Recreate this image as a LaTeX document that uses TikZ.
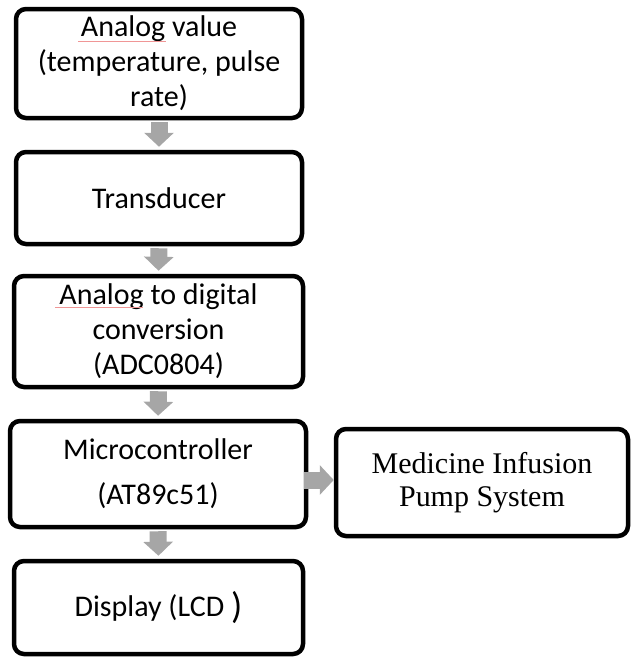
\documentclass[tikz,border=0pt]{standalone}
\usepackage{fontspec}
\setmainfont{Carlito}
\newfontfamily\serifface{Liberation Serif}
\usetikzlibrary{arrows.meta}
\definecolor{flowgray}{RGB}{166,166,166}
\definecolor{spellred}{RGB}{240,150,150}
\tikzset{
  box/.style={draw=black, line width=4.5pt, rounded corners=10pt, fill=white,
    align=center, inner sep=0pt, font=\fontsize{30}{35}\selectfont},
  flow/.style={draw=flowgray, line width=17pt,
    -{Triangle[length=14pt,width=29pt]}}
}
\begin{document}
\begin{tikzpicture}[x=1pt,y=-1pt]
\useasboundingbox (0,0) rectangle (631,657);

% processing chain
\node[box, minimum width=286, minimum height=109] (b1) at (159,63.5)
  {Analog value\\(temperature, pulse\\rate)};
\node[box, minimum width=286, minimum height=92] (b2) at (159,198)
  {Transducer};
\node[box, minimum width=289, minimum height=111] (b3) at (158.5,331.5)
  {Analog to digital\\conversion\\(ADC0804)};
\node[box, minimum width=296, minimum height=106] (b4) at (158,474)
  {Microcontroller\\[10pt](AT89c51)};
\node[box, minimum width=292, minimum height=107,
  font=\serifface\fontsize{30}{33}\selectfont] (b5) at (482,482.5)
  {Medicine Infusion\\Pump System};
\node[box, minimum width=289, minimum height=93] (b6) at (158.5,607.5)
  {Display (LCD \raisebox{-2pt}{\fontsize{37}{37}\selectfont )}};

% spell-check underline marks
\draw[spellred, line width=0.7pt] (78,41) -- (166,41);
\draw[spellred, line width=0.7pt] (55,307) -- (143,307);

% block arrows
\coordinate (ry) at (0,480);
\draw[flow, shorten <=2pt, shorten >=3pt] (b1.south) -- (b2.north);
\draw[flow, shorten <=2pt, shorten >=3pt] (b2.south) -- (b3.north);
\draw[flow, shorten <=2pt, shorten >=3pt] (b3.south) -- (b4.north);
\draw[flow, shorten <=2pt, shorten >=3pt] (b4.south) -- (b6.north);
\draw[flow, shorten <=-4pt] (b4.east |- ry) -- (b5.west |- ry);
\end{tikzpicture}
\end{document}
